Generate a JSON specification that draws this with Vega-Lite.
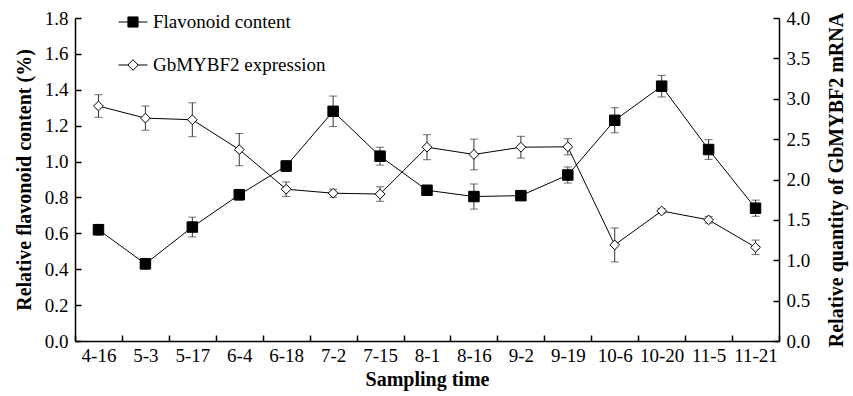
{
  "$schema": "https://vega.github.io/schema/vega-lite/v6.json",
  "width": 704,
  "height": 323,
  "autosize": {"type": "none"},
  "padding": {"left": 75, "top": 18, "right": 74, "bottom": 55},
  "background": "white",
  "config": {
    "view": {"stroke": null},
    "font": "Liberation Serif",
    "axis": {
      "labelFont": "Liberation Serif",
      "labelFontSize": 19,
      "labelColor": "black",
      "titleFont": "Liberation Serif",
      "titleFontSize": 20,
      "titleFontWeight": "bold",
      "titleColor": "black",
      "domainColor": "black",
      "domainWidth": 1.5,
      "tickColor": "black",
      "tickWidth": 1.5,
      "grid": false
    },
    "legend": {"labelFont": "Liberation Serif", "labelFontSize": 19, "labelColor": "black", "labelLimit": 400}
  },
  "data": {
    "values": [
      {"date": "4-16", "flav": 0.62, "flav_err": 0.03, "expr": 2.91, "expr_err": 0.14},
      {"date": "5-3", "flav": 0.43, "flav_err": 0.03, "expr": 2.76, "expr_err": 0.15},
      {"date": "5-17", "flav": 0.635, "flav_err": 0.055, "expr": 2.74, "expr_err": 0.21},
      {"date": "6-4", "flav": 0.815, "flav_err": 0.03, "expr": 2.37, "expr_err": 0.2},
      {"date": "6-18", "flav": 0.975, "flav_err": 0.03, "expr": 1.88, "expr_err": 0.09},
      {"date": "7-2", "flav": 1.28, "flav_err": 0.085, "expr": 1.83, "expr_err": 0.05},
      {"date": "7-15", "flav": 1.03, "flav_err": 0.05, "expr": 1.82, "expr_err": 0.09},
      {"date": "8-1", "flav": 0.84, "flav_err": 0.02, "expr": 2.4, "expr_err": 0.155},
      {"date": "8-16", "flav": 0.805, "flav_err": 0.07, "expr": 2.31, "expr_err": 0.19},
      {"date": "9-2", "flav": 0.81, "flav_err": 0.01, "expr": 2.4, "expr_err": 0.135},
      {"date": "9-19", "flav": 0.925, "flav_err": 0.045, "expr": 2.405, "expr_err": 0.1},
      {"date": "10-6", "flav": 1.23, "flav_err": 0.07, "expr": 1.19, "expr_err": 0.21},
      {"date": "10-20", "flav": 1.42, "flav_err": 0.06, "expr": 1.61, "expr_err": 0.03},
      {"date": "11-5", "flav": 1.067, "flav_err": 0.055, "expr": 1.5, "expr_err": 0.04},
      {"date": "11-21", "flav": 0.74, "flav_err": 0.045, "expr": 1.16, "expr_err": 0.09}
    ]
  },
  "encoding": {
    "x": {
      "field": "date",
      "type": "ordinal",
      "sort": null,
      "scale": {"type": "band", "paddingInner": 0, "paddingOuter": 0},
      "axis": {
        "title": "Sampling time",
        "labelAngle": 0,
        "tickBand": "extent",
        "tickSize": -6,
        "labelPadding": 11,
        "titlePadding": 4
      }
    }
  },
  "layer": [
    {
      "encoding": {
        "y": {
          "field": "flav",
          "type": "quantitative",
          "scale": {"domain": [0, 1.8], "nice": false, "zero": true},
          "axis": {
            "orient": "left",
            "title": "Relative flavonoid content (%)",
            "values": [0, 0.2, 0.4, 0.6, 0.8, 1.0, 1.2, 1.4, 1.6, 1.8],
            "format": ".1f",
            "tickSize": -6,
            "labelPadding": 13,
            "titlePadding": 10
          }
        }
      },
      "layer": [
        {
          "mark": {"type": "errorbar", "ticks": {"size": 8, "color": "#333"}, "rule": {"color": "#333"}},
          "encoding": {"yError": {"field": "flav_err"}}
        },
        {"mark": {"type": "line", "color": "black", "strokeWidth": 1}},
        {
          "mark": {"type": "point", "shape": "square", "filled": true, "fill": "black", "stroke": "black", "strokeWidth": 1, "size": 110, "opacity": 1}
        },
        {
          "transform": [{"filter": "false"}],
          "mark": {"type": "point", "filled": true, "strokeWidth": 1, "opacity": 1},
          "encoding": {
            "shape": {
              "datum": "Flavonoid content",
              "scale": {
                "domain": ["Flavonoid content", "GbMYBF2 expression"],
                "range": ["M-1,0H1M-0.35,-0.35H0.35V0.35H-0.35Z", "M-1,0H-0.35M0.35,0H1M-0.35,0L0,-0.37L0.35,0L0,0.37Z"]
              },
              "legend": {
                "title": null,
                "orient": "none",
                "legendX": 43,
                "legendY": -11,
                "symbolSize": 841,
                "symbolStrokeWidth": 1,
                "symbolOpacity": 1,
                "rowPadding": 18,
                "labelOffset": 5,
                "labelLimit": 400
              }
            },
            "fill": {
              "datum": "Flavonoid content",
              "scale": {
                "domain": ["Flavonoid content", "GbMYBF2 expression"],
                "range": ["black", "white"]
              },
              "legend": {
                "title": null,
                "orient": "none",
                "legendX": 43,
                "legendY": -11,
                "symbolSize": 841,
                "symbolStrokeWidth": 1,
                "symbolOpacity": 1,
                "rowPadding": 18,
                "labelOffset": 5,
                "labelLimit": 400
              }
            },
            "stroke": {
              "datum": "Flavonoid content",
              "scale": {
                "domain": ["Flavonoid content", "GbMYBF2 expression"],
                "range": ["black", "black"]
              },
              "legend": {
                "title": null,
                "orient": "none",
                "legendX": 43,
                "legendY": -11,
                "symbolSize": 841,
                "symbolStrokeWidth": 1,
                "symbolOpacity": 1,
                "rowPadding": 18,
                "labelOffset": 5,
                "labelLimit": 400
              }
            }
          }
        }
      ]
    },
    {
      "encoding": {
        "y": {
          "field": "expr",
          "type": "quantitative",
          "scale": {"domain": [0, 4], "nice": false, "zero": true},
          "axis": {
            "orient": "right",
            "title": "Relative quantity of GbMYBF2 mRNA",
            "titleAngle": 270,
            "titleBaseline": "top",
            "values": [0, 0.5, 1.0, 1.5, 2.0, 2.5, 3.0, 3.5, 4.0],
            "format": ".1f",
            "tickSize": -6,
            "labelPadding": 13,
            "titlePadding": 17
          }
        }
      },
      "layer": [
        {
          "mark": {"type": "errorbar", "ticks": {"size": 8, "color": "#333"}, "rule": {"color": "#333"}},
          "encoding": {"yError": {"field": "expr_err"}}
        },
        {"mark": {"type": "line", "color": "black", "strokeWidth": 1}},
        {
          "mark": {"type": "point", "shape": "diamond", "filled": true, "fill": "white", "stroke": "black", "strokeWidth": 1, "size": 95, "opacity": 1}
        }
      ]
    }
  ],
  "resolve": {"scale": {"y": "independent"}}
}
